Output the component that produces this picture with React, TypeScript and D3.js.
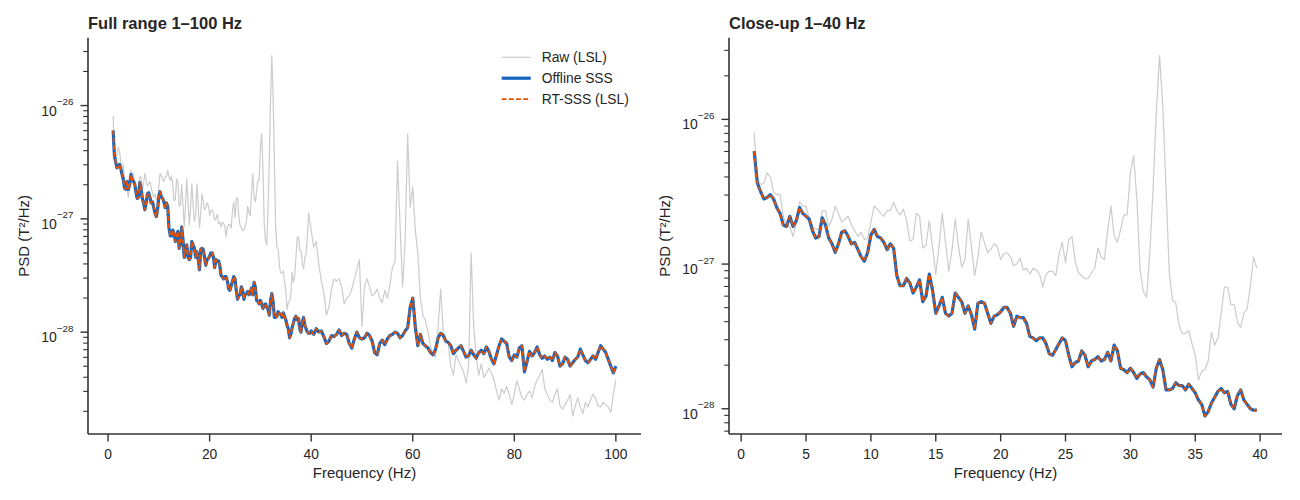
import React from "react";
import * as d3 from "d3";

// frequency bins: 0.25 Hz up to 40 Hz, 0.5 Hz above
const freqFine = d3.range(1, 40, 0.25);
const freqCoarse = d3.range(40, 100.5, 0.5);
const freqs = [...freqFine, ...freqCoarse];

// log10 PSD (T²/Hz)
const rawLog = [
  -26.09, -26.42, -26.45, -26.44, -26.37, -26.40, -26.50, -26.52,
  -26.52, -26.67, -26.73, -26.74, -26.81, -26.71, -26.57, -26.60,
  -26.60, -26.69, -26.74, -26.76, -26.76, -26.63, -26.63, -26.74,
  -26.69, -26.60, -26.65, -26.71, -26.69, -26.67, -26.73, -26.77,
  -26.81, -26.78, -26.83, -26.82, -26.71, -26.60, -26.62, -26.65,
  -26.67, -26.63, -26.63, -26.57, -26.63, -26.66, -26.62, -26.70,
  -26.84, -26.83, -26.65, -26.67, -26.89, -26.87, -26.70, -26.88,
  -27.07, -26.88, -26.65, -26.85, -27.05, -26.90, -26.69, -26.88,
  -27.02, -26.97, -26.69, -26.88, -27.08, -26.95, -26.78, -26.85,
  -26.92, -26.90, -26.86, -26.88, -26.97, -26.93, -26.92, -26.95,
  -27.01, -27.00, -26.96, -27.04, -27.03, -27.07, -27.03, -27.04,
  -27.07, -27.16, -27.07, -27.05, -27.05, -27.08, -26.93, -26.85,
  -26.99, -26.83, -26.81, -26.98, -27.06, -27.08, -27.10, -27.10,
  -27.06, -27.03, -26.89, -26.95, -26.97, -26.77, -26.60, -26.80,
  -26.85, -26.76, -26.66, -26.66, -26.37, -26.25, -26.55, -27.04,
  -27.19, -27.23, -26.92, -26.48, -25.95, -25.56, -25.91, -26.48,
  -27.06, -27.25, -27.27, -27.42, -27.48, -27.48, -27.46, -27.55,
  -27.63, -27.80, -27.74, -27.73, -27.67, -27.47, -27.56, -27.51,
  -27.34, -27.16, -27.16, -27.28, -27.28, -27.40, -27.44, -27.34,
  -27.31, -27.15, -26.95, -27.03,
  // 40 Hz and up
  -27.10, -27.25, -27.20, -27.40, -27.55, -27.65, -27.85, -27.78, -27.62, -27.53,
  -27.55, -27.53, -27.60, -27.75, -27.70, -27.68, -27.62, -27.53, -27.45, -27.36,
  -27.95, -27.60, -27.53, -27.60, -27.68, -27.66, -27.62, -27.70, -27.74, -27.63,
  -27.70, -27.58, -27.43, -27.38, -26.49, -27.05, -27.60, -27.20, -26.25, -26.90,
  -26.72, -27.10, -27.30, -27.70, -27.85, -27.90, -28.00, -28.12, -28.20, -28.22,
  -27.95, -27.62, -28.00, -28.05, -28.10, -28.30, -28.38, -28.20, -28.25, -28.30,
  -28.35, -28.45, -28.30, -27.30, -27.95, -28.22, -28.38, -28.28, -28.40, -28.36,
  -28.32, -28.36, -28.42, -28.52, -28.60, -28.50, -28.54, -28.48, -28.55, -28.64,
  -28.55, -28.43, -28.50, -28.58, -28.60, -28.55, -28.52, -28.58, -28.48, -28.42,
  -28.38, -28.33, -28.50, -28.55, -28.60, -28.62, -28.55, -28.50, -28.65, -28.68,
  -28.64, -28.60, -28.55, -28.74, -28.65, -28.58, -28.66, -28.72, -28.62, -28.66,
  -28.60, -28.55, -28.58, -28.65, -28.66, -28.62, -28.64, -28.66, -28.71, -28.55,
  -28.42,
];

const offlineLog = [
  -26.22, -26.44, -26.50, -26.55, -26.54, -26.52, -26.55, -26.61,
  -26.65, -26.73, -26.74, -26.67, -26.74, -26.70, -26.61, -26.65,
  -26.67, -26.69, -26.77, -26.82, -26.81, -26.68, -26.73, -26.82,
  -26.86, -26.92, -26.86, -26.78, -26.77, -26.81, -26.86, -26.85,
  -26.90, -26.95, -26.98, -26.92, -26.80, -26.76, -26.81, -26.82,
  -26.85, -26.90, -26.86, -26.89, -27.08, -27.15, -27.15, -27.10,
  -27.13, -27.20, -27.16, -27.11, -27.26, -27.22, -27.07, -27.18,
  -27.34, -27.29, -27.23, -27.34, -27.36, -27.34, -27.20, -27.23,
  -27.26, -27.34, -27.29, -27.35, -27.45, -27.27, -27.26, -27.27,
  -27.34, -27.41, -27.36, -27.35, -27.33, -27.30, -27.30, -27.34,
  -27.43, -27.36, -27.37, -27.37, -27.41, -27.50, -27.51, -27.53,
  -27.51, -27.51, -27.55, -27.62, -27.63, -27.59, -27.55, -27.51,
  -27.53, -27.63, -27.71, -27.68, -27.67, -27.60, -27.63, -27.71,
  -27.67, -27.66, -27.64, -27.67, -27.66, -27.61, -27.67, -27.56,
  -27.60, -27.72, -27.73, -27.75, -27.72, -27.75, -27.79, -27.76,
  -27.75, -27.78, -27.80, -27.85, -27.72, -27.66, -27.73, -27.87,
  -27.87, -27.86, -27.82, -27.84, -27.84, -27.87, -27.83, -27.86,
  -27.89, -27.94, -27.97, -28.05, -28.02, -27.96, -27.92, -27.88,
  -27.86, -27.89, -27.88, -27.97, -28.00, -27.91, -27.87, -27.94,
  -27.97, -28.00, -28.01, -28.01,
  // 40 Hz and up
  -27.99, -28.02, -27.97, -28.00, -27.99, -28.04, -28.10, -28.08, -28.03, -28.04,
  -28.02, -27.98, -28.03, -28.01, -28.02, -28.10, -28.14, -28.06, -28.00, -28.05,
  -28.06, -28.05, -28.01, -28.03, -28.08, -28.18, -28.20, -28.10, -28.07, -28.11,
  -28.06, -28.03, -28.02, -28.00, -28.01, -28.05, -28.03, -27.99, -27.96, -27.78,
  -27.70, -27.95, -28.12, -28.02, -28.10, -28.12, -28.14, -28.18, -28.20, -28.15,
  -28.05, -28.01, -28.03, -28.08, -28.09, -28.12, -28.19, -28.16, -28.14, -28.12,
  -28.17, -28.22, -28.21, -28.16, -28.20, -28.23, -28.18, -28.16, -28.19, -28.13,
  -28.17, -28.24, -28.28, -28.20, -28.12, -28.06, -28.08, -28.10, -28.22, -28.25,
  -28.20, -28.22, -28.14, -28.12, -28.35, -28.26, -28.17, -28.21, -28.18, -28.13,
  -28.20, -28.23, -28.21, -28.24, -28.22, -28.25, -28.18, -28.21, -28.30, -28.28,
  -28.22, -28.24, -28.30, -28.27, -28.24, -28.22, -28.15, -28.20, -28.25, -28.27,
  -28.24, -28.21, -28.24, -28.18, -28.12, -28.15, -28.18, -28.24, -28.30, -28.36,
  -28.30,
];

// real-time SSS output sits on top of the offline result bin for bin
const rtSssLog = offlineLog;

const seriesNames = ["Raw (LSL)", "Offline SSS", "RT-SSS (LSL)"];
const leftTicks = [0, 20, 40, 60, 80, 100];
const rightTicks = [0, 5, 10, 15, 20, 25, 30, 35, 40];

const FONT = "'Liberation Sans', Arial, Helvetica, sans-serif";
const INK = "#262626";
const AXIS = "#333333";

const styles = [
  { values: rawLog, color: "#cccccc", width: 1.2, dash: undefined as string | undefined },
  { values: offlineLog, color: "#1565c0", width: 3.2, dash: undefined },
  { values: rtSssLog, color: "#e65100", width: 1.9, dash: "4.8,2.4" },
];

const TOP = 37.7;
const BOTTOM = 434;
const WIDTH = 553;

type PanelProps = {
  left: number;
  title: string;
  fMax: number;
  xTicks: number[];
  legend?: boolean;
};

function Panel({ left, title, fMax, xTicks, legend }: PanelProps) {
  const idx = freqs.map((_, i) => i).filter((i) => freqs[i] <= fMax);
  const f0 = freqs[idx[0]];
  const f1 = freqs[idx[idx.length - 1]];
  const xPad = (f1 - f0) * 0.05;
  const x = d3.scaleLinear().domain([f0 - xPad, f1 + xPad]).range([0, WIDTH]);

  // 5% margins in log space, like matplotlib autoscaling
  const all = styles.flatMap((s) => idx.map((i) => s.values[i]));
  const lo = d3.min(all)!;
  const hi = d3.max(all)!;
  const yPad = (hi - lo) * 0.05;
  const y = d3
    .scaleLog()
    .domain([Math.pow(10, lo - yPad), Math.pow(10, hi + yPad)])
    .range([BOTTOM, TOP]);

  const majors: number[] = [];
  const minors: number[] = [];
  const [d0, d1] = y.domain();
  for (let e = Math.floor(lo - yPad); e <= Math.ceil(hi + yPad); e++) {
    const m = Math.pow(10, e);
    if (m >= d0 && m <= d1) majors.push(e);
    for (let k = 2; k <= 9; k++) {
      const v = k * m;
      if (v >= d0 && v <= d1) minors.push(v);
    }
  }

  return (
    <g transform={`translate(${left},0)`} fontFamily={FONT} fill={INK}>
      <text x={0} y={28.5} fontSize={16.5} fontWeight="bold">
        {title}
      </text>

      {styles.map((s, k) => {
        const path = d3
          .line<number>()
          .x((i) => x(freqs[i]))
          .y((i) => y(Math.pow(10, s.values[i])))(idx);
        return (
          <path
            key={k}
            d={path ?? ""}
            fill="none"
            stroke={s.color}
            strokeWidth={s.width}
            strokeDasharray={s.dash}
            strokeLinejoin="round"
          />
        );
      })}

      {/* spines */}
      <line x1={0} x2={0} y1={TOP} y2={BOTTOM} stroke={AXIS} strokeWidth={1.6} />
      <line x1={0} x2={WIDTH} y1={BOTTOM} y2={BOTTOM} stroke={AXIS} strokeWidth={1.6} />

      {xTicks.map((t) => (
        <g key={t} transform={`translate(${x(t)},${BOTTOM})`}>
          <line y2={7.5} stroke={AXIS} strokeWidth={1.4} />
          <text y={24.5} textAnchor="middle" fontSize={13.8}>
            {t}
          </text>
        </g>
      ))}

      {minors.map((v) => (
        <line key={v} x1={-4.8} x2={0} y1={y(v)} y2={y(v)} stroke={AXIS} strokeWidth={1.1} />
      ))}
      {majors.map((e) => (
        <g key={e} transform={`translate(0,${y(Math.pow(10, e))})`}>
          <line x1={-7.5} x2={0} stroke={AXIS} strokeWidth={1.4} />
          <text x={-14.5} y={10} textAnchor="end" fontSize={14}>
            10
            <tspan dy={-10.5} fontSize={9.8}>
              {`\u2212${-e}`}
            </tspan>
          </text>
        </g>
      ))}

      <text x={WIDTH / 2} y={478} textAnchor="middle" fontSize={15}>
        Frequency (Hz)
      </text>
      <text
        transform={`translate(-59.5,${(TOP + BOTTOM) / 2}) rotate(-90)`}
        textAnchor="middle"
        fontSize={15}
      >
        PSD (T²/Hz)
      </text>

      {legend &&
        seriesNames.map((name, k) => {
          const ly = 57.3 + k * 20.9;
          const s = styles[k];
          return (
            <g key={name}>
              <line
                x1={413.7}
                x2={442.7}
                y1={ly}
                y2={ly}
                stroke={s.color}
                strokeWidth={s.width}
                strokeDasharray={s.dash}
              />
              <text x={453.7} y={ly + 5} fontSize={13.8}>
                {name}
              </text>
            </g>
          );
        })}
    </g>
  );
}

export default function App() {
  return (
    <svg
      width={1300}
      height={500}
      style={{ position: "absolute", left: 0, top: 0, background: "#fff" }}
    >
      <Panel left={88} title="Full range 1–100 Hz" fMax={100} xTicks={leftTicks} legend />
      <Panel left={729} title="Close-up 1–40 Hz" fMax={39.75} xTicks={rightTicks} />
    </svg>
  );
}
